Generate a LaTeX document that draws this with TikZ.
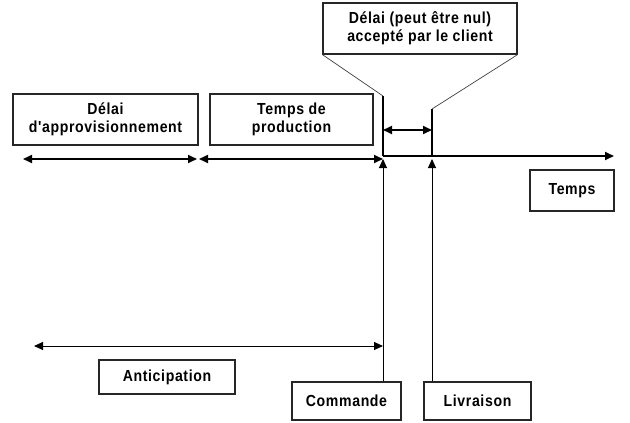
\documentclass[tikz,border=0pt]{standalone}
\usepackage{fontspec}
\newfontfamily\diagfont{Liberation Sans}[FakeStretch=0.88, LetterSpace=4]
\usetikzlibrary{arrows.meta}
\tikzset{
  box/.style={draw=black!85, line width=1.2pt, align=center, inner sep=0pt,
    font=\diagfont\bfseries\fontsize{16}{18}\selectfont},
  heavy/.style={line width=2pt},
  light/.style={line width=0.9pt},
  funnel/.style={line width=0.7pt, black!75},
  >={Triangle[length=9pt,width=8pt]}
}
\begin{document}
\begin{tikzpicture}[x=1pt, y=-1pt, black]
    \newcommand\XC{383}
    \newcommand\XV{432}
    \newcommand\YA{156}
    \newcommand\YB{159}
    \useasboundingbox (0,0) rectangle (630,423);
    \node[box, minimum width=185pt, minimum height=51pt] (Appro) at (105.5,119.5){Délai\\d'approvisionnement};
    \node[box, minimum width=163pt, minimum height=51pt] (Prod) at (291.5,119.5){Temps de\\production};
    \node[box, minimum width=194pt, minimum height=51pt] (Accord) at (420,28.5){Délai (peut être nul)\\accepté par le client};
    \node[box, minimum width=84pt, minimum height=41pt] (Temps) at (572,190.5){Temps};
    \node[box, minimum width=136pt, minimum height=34pt] (Antic) at (167,377){Anticipation};
    \node[box, minimum width=109pt, minimum height=38pt] (Cmd) at (346.5,401){Commande};
    \node[box, minimum width=107pt, minimum height=38pt] (Livr) at (477.5,401){Livraison};
    \coordinate (CmdTop) at (\XC,96);
    \coordinate (CmdAx) at (\XC,\YA);
    \coordinate (CmdUp) at (\XC,\YB);
    \coordinate (LivTop) at (\XV,109);
    \coordinate (LivAx) at (\XV,\YA);
    \coordinate (LivUp) at (\XV,\YB);
    \coordinate (AxEnd) at (614,\YA);
    \coordinate (ApL) at (23,\YB);
    \coordinate (ApR) at (197,\YB);
    \coordinate (PrL) at (199,\YB);
    \coordinate (AnL) at (34,346);
    \coordinate (AnR) at (\XC,346);
    \draw[heavy, ->] (CmdAx) -- (AxEnd);
    \draw[heavy] (CmdTop) -- (CmdAx) (LivTop) -- (LivAx);
    \draw[heavy, <->] (CmdTop |- 0,130) -- (LivTop |- 0,130);
    \draw[heavy, <->] (ApL) -- (ApR);
    \draw[heavy, <->] (PrL) -- (CmdUp);
    \draw[funnel] (Accord.south west) -- (CmdTop);
    \draw[funnel] (Accord.south east) -- (LivTop);
    \draw[light, ->] (Cmd.north -| CmdUp) -- (CmdUp);
    \draw[light, ->] (Livr.north -| LivUp) -- (LivUp);
    \draw[light, <->] (AnL) -- (AnR);
  \end{tikzpicture}
\end{document}
